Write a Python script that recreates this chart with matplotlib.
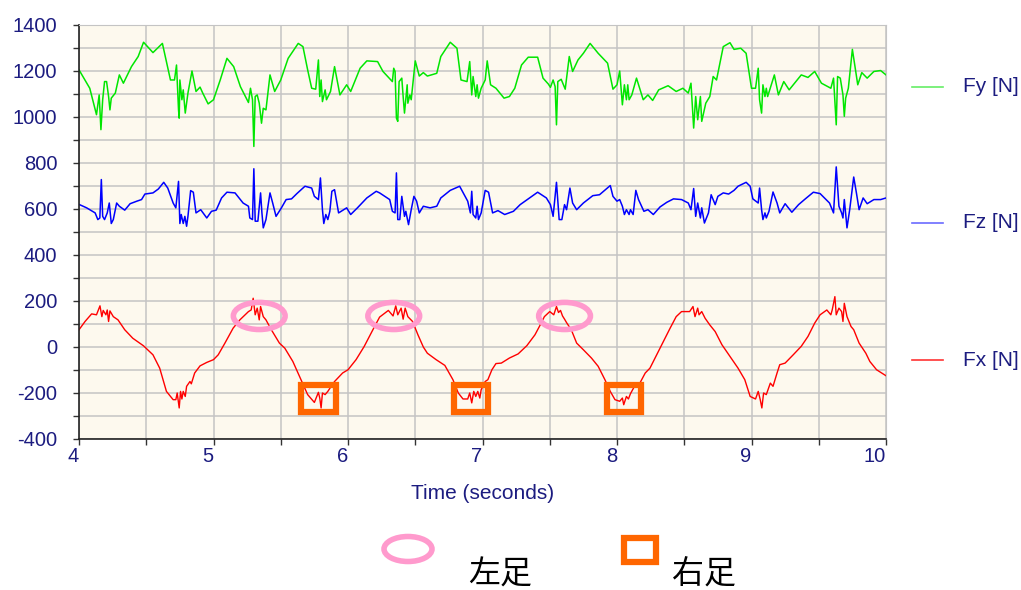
import numpy as np
import matplotlib
matplotlib.use("Agg")
import matplotlib.pyplot as plt
from matplotlib.patches import Ellipse, Rectangle
from matplotlib.lines import Line2D
from matplotlib.ticker import MultipleLocator

plt.rcParams["axes.unicode_minus"] = False

### Fy [N] (green)
fy_t = [4.00, 4.08, 4.13, 4.15, 4.163, 4.176, 4.19, 4.205, 4.22, 4.23, 4.24, 4.27, 4.30, 4.33, 4.39,
        4.44, 4.48, 4.55, 4.62, 4.65, 4.68, 4.71, 4.725, 4.74, 4.745, 4.75, 4.765, 4.775, 4.79, 4.81,
        4.84, 4.87, 4.90, 4.92, 4.96, 5.00, 5.05, 5.10, 5.15, 5.20, 5.26, 5.275, 5.29, 5.30, 5.31,
        5.325, 5.34, 5.357, 5.37, 5.39, 5.42, 5.455, 5.50, 5.555, 5.63, 5.665, 5.70, 5.73, 5.76, 5.78,
        5.79, 5.80, 5.81, 5.83, 5.84, 5.87, 5.90, 5.94, 5.99, 6.02, 6.09, 6.14, 6.22,
        6.26, 6.33, 6.34, 6.35, 6.36, 6.37, 6.38, 6.40, 6.41, 6.42, 6.44, 6.445, 6.46, 6.47, 6.48,
        6.50, 6.53, 6.56, 6.59, 6.66, 6.69, 6.76, 6.81, 6.84, 6.885, 6.905, 6.92, 6.93, 6.95, 6.96,
        6.97, 6.99, 7.02, 7.035, 7.06, 7.10, 7.16, 7.20, 7.24, 7.29, 7.34, 7.41, 7.45, 7.49, 7.505,
        7.525, 7.54, 7.55, 7.56, 7.585, 7.615, 7.645, 7.67, 7.71, 7.75, 7.80, 7.86, 7.93, 7.97, 8.00,
        8.02, 8.04, 8.055, 8.07, 8.08, 8.09, 8.11, 8.145, 8.195, 8.23, 8.265, 8.31, 8.38, 8.44, 8.49,
        8.53, 8.55, 8.57, 8.585, 8.60, 8.62, 8.63, 8.66, 8.69, 8.715, 8.74, 8.79, 8.84, 8.87, 8.92,
        8.96, 9.00, 9.03, 9.05, 9.06, 9.075, 9.085, 9.10, 9.11, 9.12, 9.17, 9.20, 9.24, 9.28, 9.37,
        9.42, 9.47, 9.52, 9.59, 9.61, 9.63, 9.64, 9.66, 9.68, 9.69, 9.70, 9.72, 9.75, 9.79, 9.82,
        9.86, 9.91, 9.96, 10.0]
fy_v = [1205, 1125, 1010, 1096, 945, 1075, 1154, 1154, 1089, 1031, 1082, 1104, 1183, 1147, 1219,
        1263, 1325, 1280, 1320, 1241, 1161, 1161, 1226, 1031, 995, 1161, 1075, 1118, 1017, 1104,
        1200, 1111, 1130, 1104, 1057, 1075, 1161, 1255, 1219, 1132, 1063, 1125, 1075, 872, 1089,
        1096, 1060, 973, 1038, 1031, 1183, 1111, 1161, 1255, 1320, 1306, 1205, 1125, 1121, 1248,
        1089, 1161, 1067, 1118, 1075, 1111, 1219, 1096, 1140, 1111, 1212, 1244, 1241,
        1198, 1154, 1212, 1198, 995, 981, 1154, 1169, 1089, 1017, 1140, 1060, 1096, 1075, 1132,
        1244, 1178, 1193, 1178, 1190, 1263, 1325, 1299, 1161, 1154, 1241, 1096, 1176, 1089, 1140,
        1082, 1125, 1161, 1244, 1140, 1125, 1082, 1089, 1125, 1226, 1260, 1260, 1169, 1143, 1129,
        1161, 1132, 966, 1154, 1164, 1121, 1263, 1198, 1248, 1277, 1320, 1277, 1234, 1121, 1140,
        1200, 1053, 1140, 1075, 1140, 1075, 1096, 1169, 1075, 1096, 1072, 1118, 1136, 1111, 1125,
        1104, 1147, 952, 1089, 988, 1089, 981, 1060, 1089, 1176, 1161, 1306, 1323, 1294, 1299,
        1277, 1125, 1125, 1212, 1075, 1017, 1140, 1089, 1125, 1089, 1183, 1096, 1154, 1118, 1183,
        1172, 1198, 1147, 1125, 1169, 966, 1176, 1169, 1096, 1003, 1082, 1125, 1294, 1140, 1193,
        1169, 1198, 1202, 1183]

### Fz [N] (blue)
fz_t = [4.00, 4.057, 4.12, 4.14, 4.155, 4.166, 4.176, 4.19, 4.21, 4.225, 4.24, 4.255, 4.28, 4.30,
        4.34, 4.38, 4.43, 4.465, 4.49, 4.55, 4.59, 4.63, 4.66, 4.70, 4.72, 4.74, 4.75, 4.76, 4.775,
        4.787, 4.80, 4.81, 4.83, 4.85, 4.87, 4.905, 4.95, 4.985, 5.02, 5.06, 5.10, 5.16, 5.22, 5.26,
        5.27, 5.29, 5.30, 5.31, 5.33, 5.35, 5.36, 5.37, 5.39, 5.42, 5.44, 5.465, 5.505, 5.54, 5.58,
        5.62, 5.68, 5.73, 5.75, 5.78, 5.795, 5.81, 5.82, 5.835, 5.85, 5.865, 5.88, 5.90, 5.93, 5.99,
        6.02, 6.07, 6.14, 6.21, 6.235, 6.31, 6.33, 6.35, 6.36, 6.37, 6.385, 6.40, 6.42, 6.43, 6.45,
        6.47, 6.49, 6.51, 6.53, 6.56, 6.61, 6.66, 6.69, 6.76, 6.83, 6.87, 6.89, 6.91, 6.92, 6.93,
        6.95, 6.96, 6.97, 6.99, 7.02, 7.045, 7.075, 7.115, 7.165, 7.23, 7.28, 7.35, 7.41, 7.475,
        7.505, 7.525, 7.55, 7.57, 7.59, 7.61, 7.625, 7.65, 7.67, 7.70, 7.75, 7.82, 7.87, 7.95, 7.97,
        8.00, 8.02, 8.04, 8.055, 8.07, 8.09, 8.10, 8.12, 8.14, 8.16, 8.20, 8.23, 8.27, 8.32, 8.37,
        8.42, 8.48, 8.53, 8.55, 8.57, 8.585, 8.60, 8.62, 8.63, 8.65, 8.68, 8.70, 8.73, 8.75, 8.79,
        8.83, 8.87, 8.90, 8.96, 8.99, 9.01, 9.05, 9.06, 9.075, 9.085, 9.10, 9.11, 9.13, 9.16, 9.19,
        9.21, 9.25, 9.30, 9.35, 9.40, 9.46, 9.51, 9.58, 9.61, 9.63, 9.65, 9.67, 9.68, 9.69, 9.71,
        9.73, 9.76, 9.78, 9.80, 9.83, 9.86, 9.91, 9.96, 10.0]
fz_v = [620, 605, 583, 554, 561, 728, 568, 554, 583, 626, 537, 554, 626, 612,
        595, 623, 634, 641, 665, 670, 687, 716, 691, 626, 605, 720, 537, 576, 537,
        568, 525, 568, 680, 673, 583, 597, 561, 590, 595, 648, 673, 670, 626, 612,
        561, 554, 775, 547, 547, 670, 583, 518, 554, 670, 626, 568, 605, 641, 644,
        667, 699, 691, 655, 641, 735, 597, 537, 576, 554, 590, 677, 684, 583, 605,
        576, 605, 648, 677, 670, 641, 590, 583, 757, 554, 554, 655, 568, 590, 532,
        597, 655, 634, 583, 612, 605, 612, 648, 681, 699, 655, 634, 583, 677, 576,
        561, 612, 554, 583, 681, 673, 583, 593, 576, 590, 619, 648, 673, 648,
        619, 568, 716, 554, 554, 619, 597, 691, 626, 597, 626, 658, 662, 702, 655,
        634, 641, 612, 576, 597, 576, 597, 576, 681, 641, 590, 597, 576, 609, 629,
        644, 641, 626, 597, 689, 568, 626, 561, 605, 539, 583, 662, 619, 655, 670,
        665, 681, 699, 716, 699, 644, 626, 691, 597, 554, 583, 561, 590, 674, 626,
        583, 623, 586, 619, 644, 673, 667, 626, 583, 783, 612, 583, 561, 641, 518,
        597, 739, 670, 597, 648, 623, 641, 641, 648]

### Fx [N] (red)
fx_t = [4.00, 4.045, 4.094, 4.13, 4.156, 4.17, 4.18, 4.20, 4.21, 4.22, 4.23, 4.255, 4.29, 4.34,
        4.40, 4.48, 4.55, 4.60, 4.65, 4.70, 4.72, 4.73, 4.745, 4.755, 4.765, 4.775, 4.79, 4.80,
        4.825, 4.835, 4.86, 4.90, 4.95, 5.00, 5.035, 5.085, 5.146, 5.196, 5.26, 5.28, 5.295, 5.31,
        5.325, 5.34, 5.35, 5.37, 5.39, 5.43, 5.49, 5.53, 5.59, 5.65, 5.70, 5.75, 5.78, 5.79, 5.80,
        5.81, 5.83, 5.85, 5.875, 5.90, 5.96, 6.00, 6.06, 6.12, 6.185, 6.235, 6.30, 6.335, 6.355,
        6.37, 6.395, 6.41, 6.425, 6.445, 6.48, 6.52, 6.56, 6.59, 6.655, 6.72, 6.78, 6.82, 6.855,
        6.89, 6.905, 6.92, 6.935, 6.95, 6.965, 6.98, 6.99, 7.02, 7.04, 7.07, 7.10, 7.14, 7.20,
        7.265, 7.33, 7.39, 7.43, 7.46, 7.50, 7.53, 7.55, 7.565, 7.58, 7.595, 7.61, 7.625, 7.66,
        7.70, 7.75, 7.81, 7.86, 7.91, 7.95, 7.985, 8.02, 8.04, 8.05, 8.07, 8.085, 8.10, 8.13, 8.17,
        8.21, 8.245, 8.295, 8.345, 8.395, 8.44, 8.48, 8.54, 8.565, 8.58, 8.60, 8.61, 8.63, 8.655,
        8.69, 8.73, 8.78, 8.84, 8.90, 8.95, 8.99, 9.03, 9.05, 9.065, 9.077, 9.09, 9.11, 9.14, 9.16,
        9.19, 9.21, 9.25, 9.31, 9.37, 9.42, 9.47, 9.51, 9.56, 9.59, 9.60, 9.62, 9.63, 9.65, 9.67,
        9.68, 9.69, 9.71, 9.74, 9.76, 9.80, 9.85, 9.88, 9.93, 10.0]
fx_v = [75, 111, 144, 140, 179, 132, 159, 140, 161, 111, 157, 132, 118, 75,
        38, 5, -34, -92, -193, -229, -229, -200, -265, -193, -226, -193, -215, -171,
        -150, -160, -113, -82, -67, -55, -34, 17, 82, 118, 154, 161, 212, 140,
        169, 118, 176, 132, 118, 75, 17, -5, -63, -142, -207, -241, -197, -222, -265,
        -200, -207, -193, -171, -150, -113, -99, -55, 2, 75, 130, 159, 135, 179,
        140, 169, 121, 169, 132, 111, 53, 0, -27, -55, -80, -142, -200, -226,
        -226, -200, -243, -193, -215, -193, -222, -186, -150, -142, -99, -72, -70, -48,
        -30, 6, 53, 97, 132, 154, 140, 176, 150, 159, 135, 121, 106, 75,
        17, -12, -48, -84, -142, -193, -229, -236, -222, -251, -215, -226, -203, -171, -157,
        -113, -92, -34, 24, 82, 132, 154, 154, 176, 132, 169, 140, 154, 125,
        96, 67, 10, -41, -92, -142, -215, -226, -193, -229, -265, -200, -207, -157, -171,
        -113, -77, -70, -34, 3, 46, 104, 140, 161, 140, 161, 219, 140, 169, 154,
        111, 190, 132, 89, 75, 17, -27, -63, -99, -125]

### marked steps
left_foot_t = [5.34, 6.34, 7.61]
left_foot_v = [135, 135, 135]
right_foot_t = [5.78, 6.915, 8.05]
right_foot_v = [-224, -224, -224]

series_labels = ["Fy [N]", "Fz [N]", "Fx [N]"]
navy = "#1c1c80"
pink = "#ff9acd"
orange = "#ff6600"

fig = plt.figure(figsize=(10.21, 5.9), dpi=100)
ax = fig.add_axes([79/1021, 1 - 439/590, (886-79)/1021, (439-25)/590])
ax.set_facecolor("#fdf9ee")

ax.plot(fy_t, fy_v, color="#00e600", lw=1.1)
ax.plot(fz_t, fz_v, color="#0000ff", lw=1.1)
ax.plot(fx_t, fx_v, color="#ff0000", lw=1.0)

for t, v in zip(left_foot_t, left_foot_v):
    ax.add_patch(Ellipse((t, v), 0.385, 118, fill=False, ec=pink, lw=4, zorder=5))
for t, v in zip(right_foot_t, right_foot_v):
    ax.add_patch(Rectangle((t - 0.128, v - 58), 0.256, 116, fill=False, ec=orange, lw=4.5, zorder=5))

ax.set_xlim(4, 10)
ax.set_ylim(-400, 1400)
ax.xaxis.set_major_locator(MultipleLocator(1))
ax.xaxis.set_minor_locator(MultipleLocator(0.5))
ax.yaxis.set_major_locator(MultipleLocator(200))
ax.yaxis.set_minor_locator(MultipleLocator(100))
ax.grid(True, which="both", color="#c4c4c4", lw=1.1)
ax.set_axisbelow(True)

ax.tick_params(axis="both", which="both", direction="out", length=4.5, width=1, color="#333333")
ax.tick_params(axis="y", which="major", labelsize=14.5, labelcolor=navy, pad=11)
ax.tick_params(axis="x", which="major", labelsize=14.5, labelcolor=navy, pad=1)
for lbl in ax.get_xticklabels():
    lbl.set_ha("right")
    lbl.set_fontfamily("Liberation Sans")
for lbl in ax.get_yticklabels():
    lbl.set_fontfamily("Liberation Sans")

for s in ["top", "right"]:
    ax.spines[s].set_color("#c4c4c4")
for s in ["left", "bottom"]:
    ax.spines[s].set_color("#222222")
    ax.spines[s].set_linewidth(1.2)

ax.set_xlabel("Time (seconds)", fontsize=15, color=navy, family="Liberation Sans", labelpad=13)

# legend on the right
leg_colors = ["#66ee66", "#6b6bff", "#ff3333"]
leg_y = [87, 223, 360]
for lab, c, y in zip(series_labels, leg_colors, leg_y):
    yf = 1 - y / 590
    fig.add_artist(Line2D([912/1021, 943/1021], [yf, yf], color=c, lw=1.2))
    fig.text(963/1021, yf, lab, fontsize=15, color=navy, family="Liberation Sans", va="center")

# bottom key for the marks
fig.add_artist(Ellipse((408/1021, 1 - 549/590), 48/1021, 25/590, fill=False, ec=pink, lw=4,
                       transform=fig.transFigure))
fig.add_artist(Rectangle((624/1021, 1 - 562/590), 32/1021, 24/590, fill=False, ec=orange, lw=4.5,
                         transform=fig.transFigure))
cjk = ["Noto Sans CJK TC", "DejaVu Sans"]
fig.text(500/1021, 1 - 575/590, "左足", fontsize=23, family=cjk, ha="center", va="center")
fig.text(704/1021, 1 - 575/590, "右足", fontsize=23, family=cjk, ha="center", va="center")

fig.savefig("out.png", dpi=100)
